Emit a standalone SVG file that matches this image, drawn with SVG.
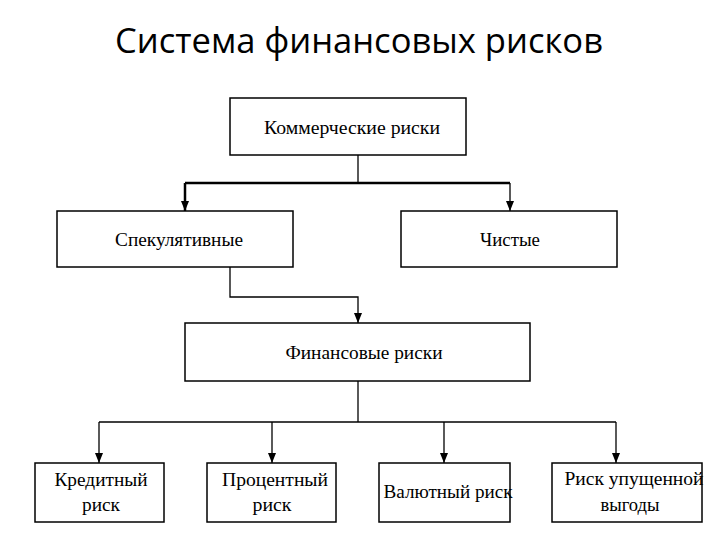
<svg xmlns="http://www.w3.org/2000/svg" width="720" height="540" viewBox="0 0 720 540">
<defs>
<marker id="ah" markerWidth="10" markerHeight="8" refX="10" refY="4" orient="auto" markerUnits="userSpaceOnUse" viewBox="0 0 10 8">
<path d="M0,0 L10,4 L0,8 Z" fill="#000"/>
</marker>
</defs>
<style>
.box{fill:#fff;stroke:#000;stroke-width:1.5}
.lbl{font-family:"Liberation Serif","Times New Roman",serif;font-size:18px;fill:#000;text-anchor:middle}
.ln{fill:none;stroke:#000;stroke-width:1.3}
.thk{fill:none;stroke:#000;stroke-width:2.5}
</style>
<rect width="720" height="540" fill="#fff"/>
<text x="359" y="53" font-family="Open Sans, Liberation Sans, sans-serif" font-size="35" text-anchor="middle" textLength="488" lengthAdjust="spacingAndGlyphs" fill="#000">Система финансовых рисков</text>
<g id="connectors">
<path class="ln" d="M358,155 V183"/>
<path class="thk" d="M185,183 H510"/>
<path class="thk" d="M185,183 V211" marker-end="url(#ah)"/>
<path class="ln" d="M510,183 V211" marker-end="url(#ah)"/>
<path class="ln" d="M230,267 V297 H358 V323" marker-end="url(#ah)"/>
<path class="ln" d="M358,381 V422"/>
<path class="ln" d="M99,422 H616"/>
<path class="ln" d="M99,422 V463" marker-end="url(#ah)"/>
<path class="ln" d="M272,422 V463" marker-end="url(#ah)"/>
<path class="ln" d="M444,422 V463" marker-end="url(#ah)"/>
<path class="ln" d="M616,422 V463" marker-end="url(#ah)"/>
</g>
<g id="n_commercial">
<rect class="box" x="230" y="98" width="236" height="57"/>
<text class="lbl" x="352" y="134" textLength="176" lengthAdjust="spacingAndGlyphs">Коммерческие риски</text>
</g>
<g id="n_spec">
<rect class="box" x="57" y="211" width="236" height="56"/>
<text class="lbl" x="179" y="246" textLength="128" lengthAdjust="spacingAndGlyphs">Спекулятивные</text>
</g>
<g id="n_pure">
<rect class="box" x="401" y="211" width="216" height="56"/>
<text class="lbl" x="510" y="246" textLength="60" lengthAdjust="spacingAndGlyphs">Чистые</text>
</g>
<g id="n_fin">
<rect class="box" x="185" y="323" width="345" height="58" stroke-width="2"/>
<text class="lbl" x="364" y="359" textLength="157" lengthAdjust="spacingAndGlyphs">Финансовые риски</text>
</g>
<g id="n_credit">
<rect class="box" x="35" y="463" width="129" height="59"/>
<text class="lbl" x="101" y="486" textLength="93" lengthAdjust="spacingAndGlyphs">Кредитный</text>
<text class="lbl" x="101" y="511" textLength="38" lengthAdjust="spacingAndGlyphs">риск</text>
</g>
<g id="n_interest">
<rect class="box" x="207" y="463" width="129" height="59"/>
<text class="lbl" x="275" y="486" textLength="106" lengthAdjust="spacingAndGlyphs">Процентный</text>
<text class="lbl" x="272" y="511" textLength="39" lengthAdjust="spacingAndGlyphs">риск</text>
</g>
<g id="n_currency">
<rect class="box" x="379" y="463" width="131" height="59"/>
<text class="lbl" x="448" y="498" textLength="129" lengthAdjust="spacingAndGlyphs">Валютный риск</text>
</g>
<g id="n_lost">
<rect class="box" x="552" y="463" width="150" height="59"/>
<text class="lbl" x="634" y="485" textLength="139" lengthAdjust="spacingAndGlyphs">Риск упущенной</text>
<text class="lbl" x="630" y="511" textLength="59" lengthAdjust="spacingAndGlyphs">выгоды</text>
</g>
</svg>
